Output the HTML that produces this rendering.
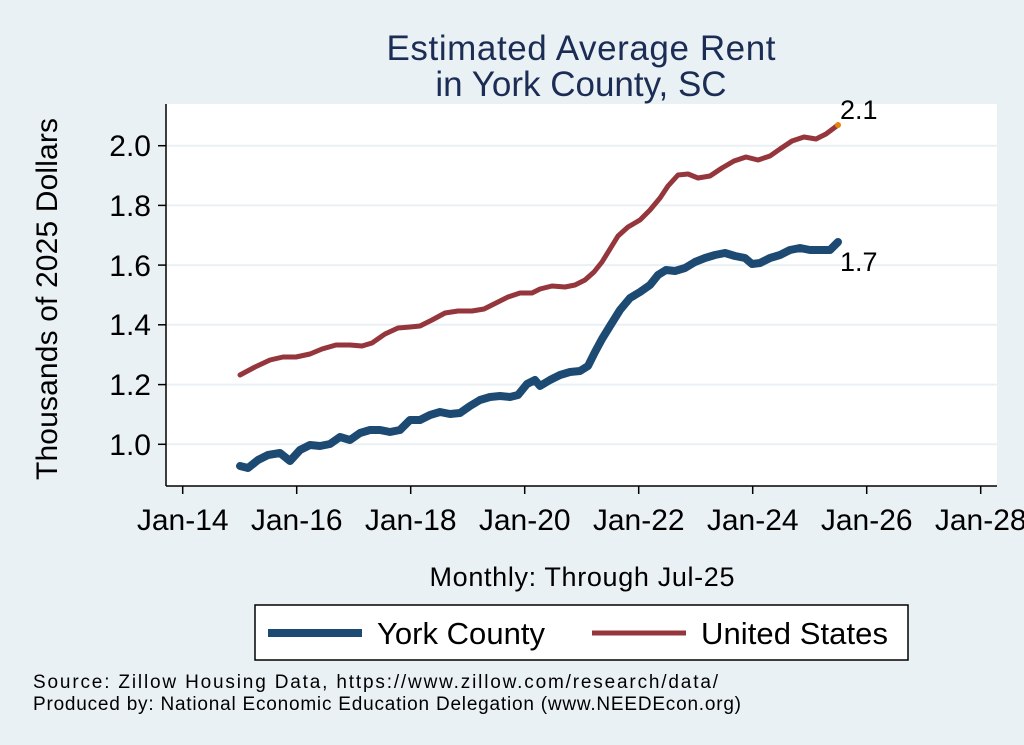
<!DOCTYPE html>
<html><head><meta charset="utf-8"><style>
html,body{margin:0;padding:0;background:#eaf1f4;}
svg{display:block;font-family:"Liberation Sans",sans-serif;}
</style></head><body>
<svg width="1024" height="745" viewBox="0 0 1024 745">
<rect width="1024" height="745" fill="#eaf1f4"/>
<rect x="166" y="104" width="831" height="382" fill="#fff"/>
<g stroke="#eaf1f4" stroke-width="2">
<line x1="166" x2="997" y1="444.3" y2="444.3"/>
<line x1="166" x2="997" y1="384.6" y2="384.6"/>
<line x1="166" x2="997" y1="324.8" y2="324.8"/>
<line x1="166" x2="997" y1="265.1" y2="265.1"/>
<line x1="166" x2="997" y1="205.4" y2="205.4"/>
<line x1="166" x2="997" y1="145.7" y2="145.7"/>
</g>
<g stroke="#000" stroke-width="1.5" fill="none">
<line x1="166" y1="104" x2="166" y2="486"/>
<line x1="166" y1="486" x2="997" y2="486"/>
<line x1="158" x2="166" y1="444.3" y2="444.3"/>
<line x1="158" x2="166" y1="384.6" y2="384.6"/>
<line x1="158" x2="166" y1="324.8" y2="324.8"/>
<line x1="158" x2="166" y1="265.1" y2="265.1"/>
<line x1="158" x2="166" y1="205.4" y2="205.4"/>
<line x1="158" x2="166" y1="145.7" y2="145.7"/>
<line x1="182.7" x2="182.7" y1="486" y2="494"/>
<line x1="296.7" x2="296.7" y1="486" y2="494"/>
<line x1="410.7" x2="410.7" y1="486" y2="494"/>
<line x1="524.7" x2="524.7" y1="486" y2="494"/>
<line x1="638.7" x2="638.7" y1="486" y2="494"/>
<line x1="752.7" x2="752.7" y1="486" y2="494"/>
<line x1="866.7" x2="866.7" y1="486" y2="494"/>
<line x1="980.7" x2="980.7" y1="486" y2="494"/>
</g>
<g font-size="30" fill="#000" text-anchor="end">
<text x="151" y="455">1.0</text>
<text x="151" y="395">1.2</text>
<text x="151" y="335">1.4</text>
<text x="151" y="276">1.6</text>
<text x="151" y="216">1.8</text>
<text x="151" y="156">2.0</text>
</g>
<g font-size="30" fill="#000" text-anchor="middle">
<text x="182.7" y="530">Jan-14</text>
<text x="296.7" y="530">Jan-16</text>
<text x="410.7" y="530">Jan-18</text>
<text x="524.7" y="530">Jan-20</text>
<text x="638.7" y="530">Jan-22</text>
<text x="752.7" y="530">Jan-24</text>
<text x="866.7" y="530">Jan-26</text>
<text x="980.7" y="530">Jan-28</text>
</g>
<text x="581" y="60" font-size="35" fill="#1c2d55" text-anchor="middle" textLength="389">Estimated Average Rent</text>
<text x="581" y="96" font-size="35" fill="#1c2d55" text-anchor="middle">in York County, SC</text>
<text transform="translate(57,299) rotate(-90)" font-size="30" text-anchor="middle" textLength="362">Thousands of 2025 Dollars</text>
<text x="582" y="586" font-size="27" text-anchor="middle" textLength="305">Monthly: Through Jul-25</text>
<polyline fill="none" stroke="#94363c" stroke-width="5" stroke-linejoin="round" stroke-linecap="round" points="240,375 255,367 270,360 283,357 296,357 310,354 322,349 336,345 350,345 362,346 372,343 385,334 398,328 410,327 420,326 432,320 445,313 458,311 472,311 484,309 496,303 508,297 520,293 532,293 540,289 552,286 565,287 575,285 585,280 594,272 602,262 610,249 618,236 628,227 640,220 650,210 660,198 668,186 678,175 688,174 698,178 710,176 722,168 734,161 746,157 758,160 770,156 780,149 792,141 804,137 816,139 826,134 838,125"/>
<circle cx="838" cy="125" r="3" fill="#e8820c"/>
<polyline fill="none" stroke="#1c4a72" stroke-width="8" stroke-linejoin="round" stroke-linecap="round" points="240,466 248,468 258,460 268,455 280,453 290,461 300,450 310,445 320,446 330,444 340,437 350,440 360,433 370,430 380,430 390,432 400,430 410,420 420,420 430,415 440,412 450,414 460,413 470,406 480,400 490,397 500,396 510,397 518,395 527,384 535,380 540,386 550,380 560,375 570,372 580,371 588,366 595,352 602,339 610,326 620,310 630,298 640,292 650,285 658,275 666,270 675,271 685,268 695,262 705,258 715,255 725,253 735,256 745,258 752,264 760,263 770,258 780,255 790,250 800,248 810,250 820,250 830,250 838,242"/>
<text x="840" y="119" font-size="27">2.1</text>
<text x="840" y="271" font-size="27">1.7</text>
<rect x="255" y="605" width="653" height="55" fill="#fff" stroke="#000" stroke-width="1.5"/>
<line x1="268" y1="633" x2="362" y2="633" stroke="#1c4a72" stroke-width="8"/>
<text x="377" y="644" font-size="31" textLength="168">York County</text>
<line x1="592" y1="633" x2="686" y2="633" stroke="#94363c" stroke-width="5"/>
<text x="701" y="644" font-size="31" textLength="187">United States</text>
<text x="33" y="688" font-size="19" textLength="685">Source: Zillow Housing Data, https://www.zillow.com/research/data/</text>
<text x="33" y="710" font-size="19" textLength="708">Produced by: National Economic Education Delegation (www.NEEDEcon.org)</text>
</svg>
</body></html>
